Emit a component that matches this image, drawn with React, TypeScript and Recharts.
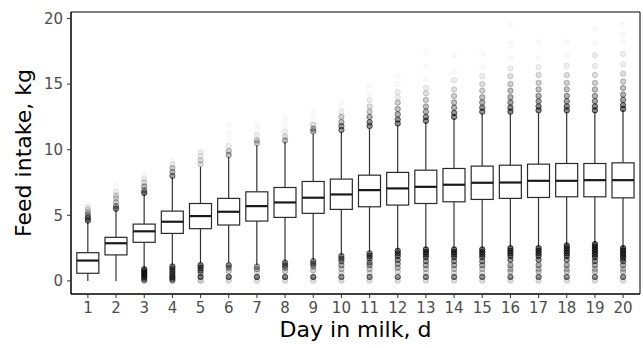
import React from "react";
import {
  ComposedChart,
  Bar,
  Scatter,
  XAxis,
  YAxis,
  ReferenceArea,
} from "recharts";

// box statistics, one entry per day in milk
const days = [1, 2, 3, 4, 5, 6, 7, 8, 9, 10, 11, 12, 13, 14, 15, 16, 17, 18, 19, 20];
const lowerWhisker = [0, 0, 0.96, 1.2, 1.34, 1.34, 1.22, 1.47, 1.6, 1.98, 2.23, 2.36, 2.48, 2.48, 2.48, 2.61, 2.61, 2.74, 2.87, 2.53];
const q1 = [0.58, 1.98, 2.94, 3.62, 3.98, 4.26, 4.56, 4.84, 5.15, 5.45, 5.65, 5.78, 5.9, 6.03, 6.21, 6.29, 6.36, 6.41, 6.41, 6.33];
const median = [1.55, 2.87, 3.78, 4.51, 4.94, 5.27, 5.7, 5.98, 6.34, 6.59, 6.92, 7.05, 7.17, 7.33, 7.48, 7.5, 7.63, 7.63, 7.68, 7.68];
const q3 = [2.15, 3.32, 4.33, 5.32, 5.9, 6.29, 6.79, 7.12, 7.58, 7.76, 8.06, 8.27, 8.44, 8.57, 8.75, 8.82, 8.9, 8.95, 8.95, 9.0];
const upperWhisker = [4.5, 5.4, 6.6, 7.9, 8.7, 9.45, 10.34, 10.6, 11.2, 11.36, 11.6, 11.86, 12.1, 12.37, 12.75, 12.75, 12.8, 12.88, 12.88, 13.0];

// outliers: [value, approx. number of overlapping points]
const upperOutliers: [number, number][][] = [
  [[4.6, 10], [4.8, 8], [5.0, 6], [5.2, 4], [5.4, 3], [5.6, 2], [5.8, 1]],
  [[5.5, 9], [5.7, 6], [6.0, 4], [6.3, 3], [6.5, 3], [6.8, 2], [7.3, 1]],
  [[6.7, 9], [6.9, 6], [7.2, 5], [7.5, 3], [7.8, 2], [8.2, 1]],
  [[8.0, 7], [8.3, 5], [8.6, 4], [8.9, 2], [9.2, 1]],
  [[8.9, 3], [9.2, 3], [9.5, 2], [9.8, 2]],
  [[9.6, 5], [9.9, 4], [10.3, 2], [10.8, 1], [11.3, 1], [11.9, 1]],
  [[10.5, 4], [10.7, 4], [11.1, 2], [11.5, 1], [11.9, 1]],
  [[10.7, 5], [11.0, 3], [11.4, 2], [11.9, 1], [12.4, 1]],
  [[11.4, 6], [11.6, 5], [11.9, 3], [12.4, 1], [12.9, 1]],
  [[11.5, 8], [11.8, 7], [12.1, 5], [12.5, 4], [12.9, 2], [13.3, 1], [13.7, 1]],
  [[11.8, 9], [12.1, 8], [12.5, 6], [12.9, 4], [13.3, 3], [13.8, 2], [14.3, 1], [14.9, 1]],
  [[12.0, 9], [12.3, 8], [12.7, 6], [13.1, 5], [13.6, 4], [14.0, 2], [14.4, 2], [15.0, 1], [15.6, 1]],
  [[12.2, 9], [12.5, 8], [12.9, 6], [13.3, 5], [13.8, 4], [14.3, 3], [14.7, 2], [15.4, 1], [16.3, 1], [17.4, 1]],
  [[12.5, 9], [12.8, 8], [13.2, 6], [13.6, 5], [14.1, 4], [14.6, 3], [15.3, 2], [16.0, 1], [17.2, 1]],
  [[12.9, 9], [13.2, 8], [13.6, 6], [14.0, 5], [14.5, 4], [15.0, 3], [15.6, 2], [16.3, 1], [17.3, 1]],
  [[12.9, 10], [13.2, 9], [13.6, 7], [14.0, 6], [14.5, 5], [15.0, 4], [15.6, 3], [16.2, 2], [17.0, 1], [18.0, 1], [19.5, 1]],
  [[13.0, 10], [13.3, 9], [13.7, 7], [14.1, 6], [14.6, 5], [15.1, 4], [15.7, 3], [16.3, 2], [17.0, 1], [18.2, 1]],
  [[13.0, 10], [13.3, 9], [13.7, 7], [14.1, 6], [14.6, 5], [15.1, 4], [15.7, 3], [16.4, 2], [17.2, 1], [18.2, 1]],
  [[13.0, 10], [13.3, 9], [13.7, 7], [14.1, 6], [14.6, 5], [15.1, 4], [15.7, 3], [16.4, 2], [17.2, 2], [18.1, 1], [19.2, 1]],
  [[13.1, 10], [13.4, 9], [13.8, 7], [14.2, 6], [14.7, 5], [15.2, 4], [15.8, 3], [16.5, 2], [17.3, 2], [18.2, 1], [18.8, 1], [19.6, 1]],
];
const lowerOutliers: [number, number][][] = [
  [],
  [],
  [[0.9, 10], [0.75, 10], [0.6, 10], [0.45, 10], [0.3, 10], [0.15, 8], [0.02, 6]],
  [[1.1, 10], [0.9, 10], [0.7, 10], [0.5, 10], [0.3, 10], [0.15, 8], [0.02, 6]],
  [[1.2, 10], [1.0, 10], [0.8, 8], [0.6, 6], [0.3, 10], [0.02, 4]],
  [[1.2, 8], [1.0, 6], [0.75, 4], [0.3, 10], [0.02, 3]],
  [[1.1, 6], [0.9, 5], [0.7, 3], [0.3, 10], [0.02, 3]],
  [[1.4, 8], [1.2, 8], [1.0, 6], [0.75, 4], [0.3, 10], [0.02, 3]],
  [[1.5, 8], [1.3, 8], [1.1, 6], [0.8, 4], [0.3, 10], [0.02, 3]],
  [[1.9, 8], [1.7, 8], [1.5, 7], [1.2, 6], [0.9, 4], [0.6, 3], [0.3, 8], [0.02, 3]],
  [[2.1, 10], [1.9, 10], [1.7, 8], [1.4, 7], [1.2, 6], [0.9, 4], [0.6, 3], [0.3, 8], [0.02, 3]],
  [[2.3, 10], [2.1, 10], [1.9, 9], [1.6, 8], [1.3, 6], [1.0, 5], [0.7, 3], [0.3, 8], [0.02, 3]],
  [[2.4, 12], [2.2, 11], [2.0, 10], [1.8, 9], [1.5, 7], [1.2, 6], [0.9, 4], [0.6, 3], [0.3, 8], [0.02, 3]],
  [[2.4, 12], [2.2, 11], [2.0, 10], [1.8, 9], [1.5, 7], [1.2, 6], [0.9, 4], [0.6, 3], [0.3, 8], [0.02, 3]],
  [[2.4, 12], [2.2, 11], [2.0, 10], [1.8, 9], [1.5, 7], [1.2, 6], [0.9, 4], [0.6, 3], [0.3, 8], [0.02, 3]],
  [[2.5, 12], [2.3, 12], [2.1, 11], [1.9, 10], [1.6, 8], [1.2, 6], [0.9, 4], [0.7, 4], [0.3, 8], [0.02, 3]],
  [[2.5, 12], [2.3, 12], [2.1, 11], [1.9, 10], [1.6, 8], [1.2, 6], [0.9, 4], [0.7, 4], [0.3, 8], [0.02, 3]],
  [[2.7, 12], [2.5, 12], [2.3, 12], [2.1, 11], [1.9, 10], [1.6, 8], [1.2, 6], [0.9, 4], [0.7, 4], [0.3, 8], [0.02, 3]],
  [[2.8, 14], [2.6, 14], [2.4, 13], [2.2, 12], [2.0, 11], [1.8, 10], [1.5, 8], [1.2, 6], [0.9, 4], [0.7, 4], [0.3, 8], [0.02, 3]],
  [[2.5, 14], [2.3, 14], [2.1, 13], [1.9, 12], [1.7, 10], [1.5, 8], [1.2, 6], [0.9, 4], [0.7, 4], [0.3, 8], [0.02, 3]],
];

const yTicks = [0, 5, 10, 15, 20];

const boxRows = days.map((day, i) => ({
  day,
  lo: lowerWhisker[i],
  q1: q1[i],
  med: median[i],
  q3: q3[i],
  hi: upperWhisker[i],
}));

const outlierRows = days.flatMap((day, i) =>
  [...upperOutliers[i], ...lowerOutliers[i]].map(([v, n]) => ({ day, v, n }))
);

const FONT = "DejaVu Sans";

function BoxShape(props: any) {
  const { x, y, width, height, payload } = props;
  const top = Math.min(y, y + height);
  const bottom = Math.max(y, y + height);
  const { lo, hi } = payload;
  const py = (v: number) => bottom - ((v - lo) / (hi - lo)) * (bottom - top);
  const cx = x + width / 2;
  return (
    <g>
      <line x1={cx} x2={cx} y1={py(hi)} y2={py(payload.q3)} stroke="#333" strokeWidth={1.2} />
      <line x1={cx} x2={cx} y1={py(payload.q1)} y2={py(lo)} stroke="#333" strokeWidth={1.2} />
      <rect
        x={x}
        y={py(payload.q3)}
        width={width}
        height={py(payload.q1) - py(payload.q3)}
        fill="#fff"
        stroke="#2a2a2a"
        strokeWidth={1.2}
      />
      <line x1={x} x2={x + width} y1={py(payload.med)} y2={py(payload.med)} stroke="#1a1a1a" strokeWidth={2.2} />
    </g>
  );
}

// overlapping translucent points: darker where more points pile up
function OutlierDot(props: any) {
  const { cx, cy, payload } = props;
  const a = 1 - Math.exp(-0.04 * Math.pow(payload.n, 1.6));
  return (
    <circle
      cx={cx}
      cy={cy}
      r={2.7}
      fill="#000"
      fillOpacity={a * 0.6}
      stroke="#000"
      strokeOpacity={a}
      strokeWidth={0.8}
    />
  );
}

export default function App() {
  return (
    <div style={{ position: "absolute", left: 0, top: 0, background: "#fff" }}>
      <ComposedChart
        width={643}
        height={348}
        data={boxRows}
        margin={{ top: 12, right: 3, bottom: 0, left: 0 }}
      >
        <XAxis
          dataKey="day"
          type="number"
          domain={[0.4, 20.6]}
          ticks={days}
          interval={0}
          allowDataOverflow
          height={54}
          axisLine={{ stroke: "#000", strokeWidth: 1 }}
          tickLine={{ stroke: "#333" }}
          tickSize={4}
          tickMargin={4}
          tick={{ fill: "#4d4d4d", fontSize: 15, fontFamily: FONT }}
          label={{
            value: "Day in milk, d",
            position: "insideBottom",
            offset: 11,
            style: { fill: "#000", fontSize: 22, fontFamily: FONT },
          }}
        />
        <YAxis
          type="number"
          domain={[-1, 20.5]}
          ticks={yTicks}
          allowDataOverflow
          width={71}
          axisLine={{ stroke: "#000", strokeWidth: 1 }}
          tickLine={{ stroke: "#333" }}
          tickSize={4}
          tickMargin={4}
          tick={{ fill: "#4d4d4d", fontSize: 15, fontFamily: FONT }}
          label={({ viewBox }: any) => {
            const lx = viewBox.x + 31;
            const ly = viewBox.y + viewBox.height / 2;
            return (
              <text
                x={lx}
                y={ly}
                transform={`rotate(-90, ${lx}, ${ly})`}
                textAnchor="middle"
                fill="#000"
                fontSize={22}
                fontFamily={FONT}
              >
                Feed intake, kg
              </text>
            );
          }}
        />
        <Scatter
          data={outlierRows}
          dataKey="v"
          shape={OutlierDot}
          isAnimationActive={false}
        />
        <Bar
          dataKey={(d: any) => [d.lo, d.hi]}
          barSize={22}
          shape={BoxShape}
          isAnimationActive={false}
        />
        <ReferenceArea
          x1={0.4}
          x2={20.6}
          y1={-1}
          y2={20.5}
          fill="none"
          stroke="#000"
          strokeWidth={1}
          ifOverflow="visible"
        />
      </ComposedChart>
    </div>
  );
}
